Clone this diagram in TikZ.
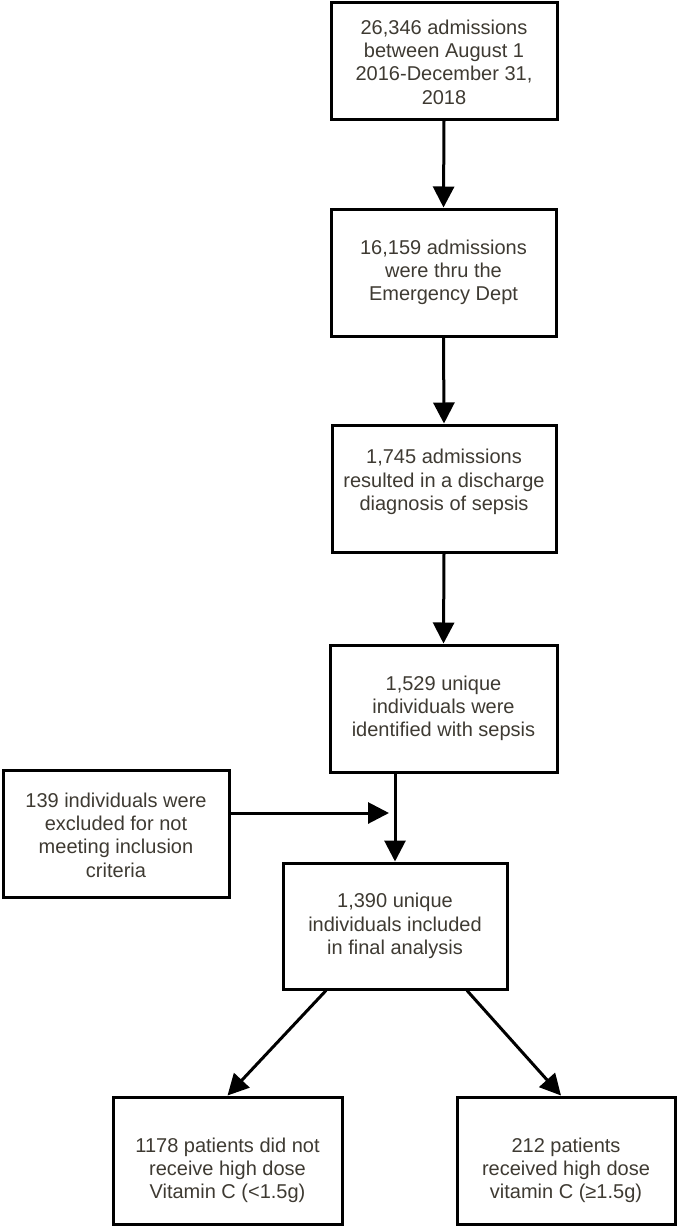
\documentclass[tikz,border=0pt]{standalone}
\usepackage{fontspec}
\setmainfont{Liberation Sans}
\usetikzlibrary{arrows.meta,calc}
\definecolor{txtc}{RGB}{62,58,50}
\begin{document}
\begin{tikzpicture}[x=1pt,y=-1pt,
  box/.style={draw=black,line width=3pt,rectangle,inner sep=0pt},
  txt/.style={text=txtc,align=center,inner sep=0pt,font=\fontsize{20}{23.3}\selectfont},
  arr/.style={draw=black,line width=3pt,-{Triangle[length=21pt,width=21pt]}}]
\useasboundingbox (0,0) rectangle (685,1227);
% boxes
\node[box,minimum width=226pt,minimum height=117pt] (b1) at (444,60.5) {};
\node[box,minimum width=225pt,minimum height=127pt] (b2) at (443.5,272.5) {};
\node[box,minimum width=224pt,minimum height=127pt] (b3) at (444,488.5) {};
\node[box,minimum width=227pt,minimum height=127pt] (b4) at (443.5,708.5) {};
\node[box,minimum width=226pt,minimum height=127pt] (ex) at (116,833.5) {};
\node[box,minimum width=224pt,minimum height=126pt] (b5) at (395,926) {};
\node[box,minimum width=229pt,minimum height=127pt] (b6) at (227.5,1160.5) {};
\node[box,minimum width=218pt,minimum height=127pt] (b7) at (566,1160.5) {};
% texts
\node[txt] (t1) at ([yshift=-1.5pt]b1.center) {26,346 admissions\\between August 1\\2016-December 31,\\2018};
\node[txt] (t2) at (b2.center) {16,159 admissions\\were thru the\\Emergency Dept};
\node[txt] (t3) at ([yshift=6.5pt]b3.center) {1,745 admissions\\resulted in a discharge\\diagnosis of sepsis};
\node[txt] (t4) at (b4.center) {1,529 unique\\individuals were\\identified with sepsis};
\node[txt] (tx) at ([yshift=-1.5pt]ex.center) {139 individuals were\\excluded for not\\meeting inclusion\\criteria};
\node[txt] (t5) at (b5.center) {1,390 unique\\individuals included\\in final analysis};
\node[txt] (t6) at ([yshift=-10pt]b6.center) {1178 patients did not\\receive high dose\\Vitamin C (<1.5g)};
\node[txt] (t7) at ([yshift=-10pt]b7.center) {212 patients\\received high dose\\vitamin C (≥1.5g)};
% connectors
\coordinate (j) at (395,813);
\draw[arr] (b1.south) -- (b2.north);
\draw[arr] (b2.south) -- (b3.north);
\draw[arr] (b3.south) -- (b4.north);
\draw[arr] (b4.south -| j) -- (b5.north);
\draw[arr] (ex.east |- j) -- ([xshift=-6pt]j);
\draw[arr] ([xshift=-69pt]b5.south) -- (b6.north);
\draw[arr] ([xshift=72pt]b5.south) -- ([xshift=-5pt]b7.north);
\end{tikzpicture}
\end{document}
